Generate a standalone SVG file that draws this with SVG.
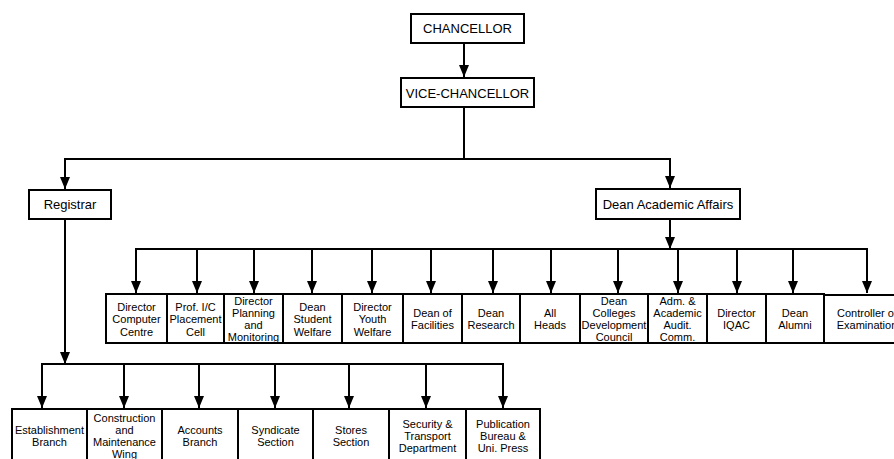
<svg xmlns="http://www.w3.org/2000/svg" width="894" height="459" viewBox="0 0 894 459">
<style>
  .box { fill: #fff; stroke: #000; stroke-width: 2; }
  .t { font-family: "Liberation Sans", Arial, sans-serif; font-size: 13px; fill: #000; text-anchor: middle; }
  .s { font-family: "Liberation Sans", Arial, sans-serif; font-size: 11px; fill: #000; text-anchor: middle; }
  .ln { fill: none; stroke: #000; stroke-width: 2; }
</style>
<defs>
  <marker id="ah" viewBox="0 0 12 10" refX="12" refY="5" markerWidth="12" markerHeight="10" markerUnits="userSpaceOnUse" orient="auto">
    <path d="M0,0 L12,5 L0,10 Z" fill="#000"/>
  </marker>
</defs>
<rect width="894" height="459" fill="#fff"/>

<g id="connectors">
  <path class="ln" d="M464,43 V77" marker-end="url(#ah)"/>
  <path class="ln" d="M464,107 V158"/>
  <path class="ln" d="M65,189 V159 H670 V188" marker-end="url(#ah)"/>
  <path class="ln" d="M65,159 V189" marker-end="url(#ah)"/>
  <path class="ln" d="M670,219 V249" marker-end="url(#ah)"/>
  <path class="ln" d="M136,293 V249 H867 V293" marker-end="url(#ah)"/>
  <path class="ln" d="M136,249 V293" marker-end="url(#ah)"/>
  <path class="ln" d="M197,249 V293" marker-end="url(#ah)"/>
  <path class="ln" d="M254,249 V293" marker-end="url(#ah)"/>
  <path class="ln" d="M312,249 V293" marker-end="url(#ah)"/>
  <path class="ln" d="M372,249 V293" marker-end="url(#ah)"/>
  <path class="ln" d="M431,249 V293" marker-end="url(#ah)"/>
  <path class="ln" d="M493,249 V293" marker-end="url(#ah)"/>
  <path class="ln" d="M551,249 V293" marker-end="url(#ah)"/>
  <path class="ln" d="M618,249 V293" marker-end="url(#ah)"/>
  <path class="ln" d="M678,249 V293" marker-end="url(#ah)"/>
  <path class="ln" d="M737,249 V293" marker-end="url(#ah)"/>
  <path class="ln" d="M793,249 V293" marker-end="url(#ah)"/>
  <path class="ln" d="M65,219 V364" marker-end="url(#ah)"/>
  <path class="ln" d="M42,408 V364 H503 V408" marker-end="url(#ah)"/>
  <path class="ln" d="M42,364 V408" marker-end="url(#ah)"/>
  <path class="ln" d="M124,364 V408" marker-end="url(#ah)"/>
  <path class="ln" d="M199,364 V408" marker-end="url(#ah)"/>
  <path class="ln" d="M275,364 V408" marker-end="url(#ah)"/>
  <path class="ln" d="M349,364 V408" marker-end="url(#ah)"/>
  <path class="ln" d="M426,364 V408" marker-end="url(#ah)"/>
</g>

<g id="chancellor"><rect class="box" x="411" y="14" width="113" height="29"/><text class="t" x="467.5" y="33">CHANCELLOR</text></g>
<g id="vice-chancellor"><rect class="box" x="401" y="78" width="133" height="29"/><text class="t" x="467.5" y="97.5">VICE-CHANCELLOR</text></g>
<g id="registrar"><rect class="box" x="29" y="190" width="82" height="29"/><text class="t" x="70" y="209">Registrar</text></g>
<g id="dean-academic-affairs"><rect class="box" x="596" y="189" width="144" height="30"/><text class="t" x="668" y="208.5">Dean Academic Affairs</text></g>

<g id="dir-computer"><rect class="box" x="106" y="294" width="61" height="49"/><text class="s" x="136.5" y="311">Director</text><text class="s" x="136.5" y="323">Computer</text><text class="s" x="136.5" y="335.5">Centre</text></g>
<g id="placement"><rect class="box" x="167" y="294" width="57" height="49"/><text class="s" x="195.5" y="311">Prof. I/C</text><text class="s" x="195.5" y="323">Placement</text><text class="s" x="195.5" y="335.5">Cell</text></g>
<g id="planning"><rect class="box" x="224" y="294" width="59" height="49"/><text class="s" x="253.5" y="305">Director</text><text class="s" x="253.5" y="317">Planning</text><text class="s" x="253.5" y="329">and</text><text class="s" x="253.5" y="341">Monitoring</text></g>
<g id="student-welfare"><rect class="box" x="283" y="294" width="59" height="49"/><text class="s" x="312.5" y="311">Dean</text><text class="s" x="312.5" y="323">Student</text><text class="s" x="312.5" y="335.5">Welfare</text></g>
<g id="youth-welfare"><rect class="box" x="342" y="294" width="61" height="49"/><text class="s" x="372.5" y="311">Director</text><text class="s" x="372.5" y="323">Youth</text><text class="s" x="372.5" y="335.5">Welfare</text></g>
<g id="facilities"><rect class="box" x="403" y="294" width="59" height="49"/><text class="s" x="432.5" y="317">Dean of</text><text class="s" x="432.5" y="329">Facilities</text></g>
<g id="research"><rect class="box" x="462" y="294" width="58" height="49"/><text class="s" x="491" y="317">Dean</text><text class="s" x="491" y="329">Research</text></g>
<g id="all-heads"><rect class="box" x="520" y="294" width="60" height="49"/><text class="s" x="550" y="317">All</text><text class="s" x="550" y="329">Heads</text></g>
<g id="colleges"><rect class="box" x="580" y="294" width="68" height="49"/><text class="s" x="614" y="305">Dean</text><text class="s" x="614" y="317">Colleges</text><text class="s" x="614" y="329">Development</text><text class="s" x="614" y="341">Council</text></g>
<g id="audit"><rect class="box" x="648" y="294" width="59" height="49"/><text class="s" x="677.5" y="305">Adm. &amp;</text><text class="s" x="677.5" y="317">Academic</text><text class="s" x="677.5" y="329">Audit.</text><text class="s" x="677.5" y="341">Comm.</text></g>
<g id="iqac"><rect class="box" x="707" y="294" width="59" height="49"/><text class="s" x="736.5" y="317">Director</text><text class="s" x="736.5" y="329">IQAC</text></g>
<g id="alumni"><rect class="box" x="766" y="294" width="58" height="49"/><text class="s" x="795" y="317">Dean</text><text class="s" x="795" y="329">Alumni</text></g>
<g id="controller"><rect class="box" x="824" y="295" width="90" height="48" stroke-width="1.5"/><text class="s" x="867" y="317">Controller of</text><text class="s" x="867" y="329">Examination</text></g>

<g id="establishment"><rect class="box" x="12" y="409" width="75" height="60"/><text class="s" x="49.5" y="434">Establishment</text><text class="s" x="49.5" y="446">Branch</text></g>
<g id="construction"><rect class="box" x="87" y="409" width="75" height="60"/><text class="s" x="124.5" y="422">Construction</text><text class="s" x="124.5" y="434">and</text><text class="s" x="124.5" y="446">Maintenance</text><text class="s" x="124.5" y="458">Wing</text></g>
<g id="accounts"><rect class="box" x="162" y="409" width="76" height="60"/><text class="s" x="200" y="434">Accounts</text><text class="s" x="200" y="446">Branch</text></g>
<g id="syndicate"><rect class="box" x="238" y="409" width="75" height="60"/><text class="s" x="275.5" y="434">Syndicate</text><text class="s" x="275.5" y="446">Section</text></g>
<g id="stores"><rect class="box" x="313" y="409" width="76" height="60"/><text class="s" x="351" y="434">Stores</text><text class="s" x="351" y="446">Section</text></g>
<g id="security"><rect class="box" x="389" y="409" width="77" height="60"/><text class="s" x="427.5" y="428">Security &amp;</text><text class="s" x="427.5" y="440">Transport</text><text class="s" x="427.5" y="452">Department</text></g>
<g id="publication"><rect class="box" x="466" y="409" width="74" height="60"/><text class="s" x="503" y="428">Publication</text><text class="s" x="503" y="440">Bureau &amp;</text><text class="s" x="503" y="452">Uni. Press</text></g>
</svg>
